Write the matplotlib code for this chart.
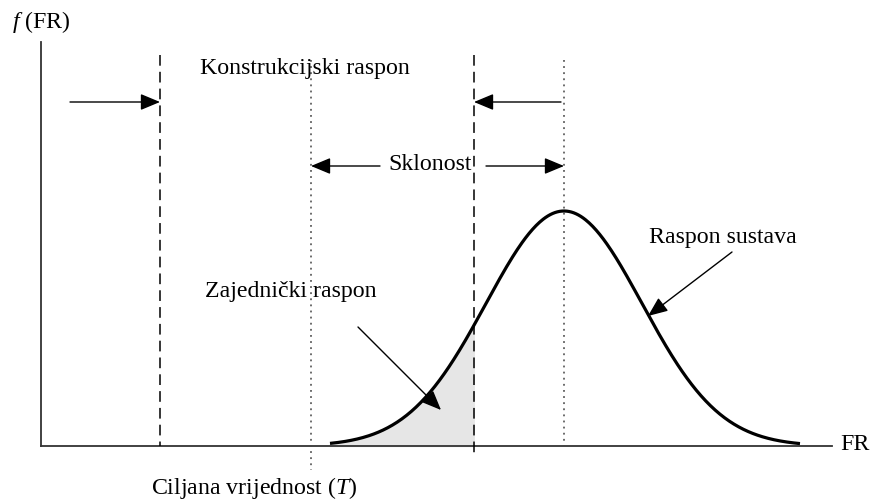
import numpy as np
import matplotlib
matplotlib.use("Agg")
import matplotlib.pyplot as plt

# ---- diagram parameters (pixel-space schematic) ----
axis_origin = (41, 446)
axis_x_end = 832
axis_y_top = 42
curve_mean = 564
curve_sd = 78
curve_height = 235
curve_range = (330, 800)
dashed_x = [160, 474]
dotted_x = [311, 564]
labels = {
    "y_axis": "f (FR)",
    "x_axis": "FR",
    "konstr": "Konstrukcijski raspon",
    "sklonost": "Sklonost",
    "zajed": "Zajednički raspon",
    "sustav": "Raspon sustava",
    "cilj": "Ciljana vrijednost (T)",
}

plt.rcParams['font.family'] = ['Liberation Serif', 'DejaVu Serif']
plt.rcParams['mathtext.fontset'] = 'custom'
plt.rcParams['mathtext.it'] = 'Liberation Serif:italic'
plt.rcParams['mathtext.rm'] = 'Liberation Serif'

fig = plt.figure(figsize=(8.74, 5.01), dpi=100)
ax = fig.add_axes([0, 0, 1, 1])
ax.set_xlim(0, 874)
ax.set_ylim(501, 0)
ax.axis('off')

ox, oy = axis_origin
# axes
ax.plot([ox, ox], [axis_y_top, oy], color='#333333', lw=1.3)
ax.plot([ox, axis_x_end], [oy, oy], color='#333333', lw=1.3)

# curve
xs = np.linspace(curve_range[0], curve_range[1], 400)
ys = oy - curve_height * np.exp(-0.5 * ((xs - curve_mean) / curve_sd) ** 2)
mask = xs <= dashed_x[1]
ax.fill_between(xs[mask], ys[mask], oy, color='#e6e6e6', zorder=1)
ax.plot(xs, ys, color='black', lw=2.3, zorder=3, solid_capstyle='butt')

# dashed lines
ax.plot([dashed_x[0]] * 2, [55, oy], color='black', lw=1.1, ls=(0, (7, 4)))
ax.plot([dashed_x[1]] * 2, [55, 456], color='black', lw=1.1, ls=(0, (7, 4)))
# dotted lines
ax.plot([dotted_x[0]] * 2, [60, 470], color='#444444', lw=1.1, ls=(0, (1.2, 2.8)))
ax.plot([dotted_x[1]] * 2, [60, oy], color='#444444', lw=1.1, ls=(0, (1.2, 2.8)))

ap = dict(arrowstyle='-|>,head_length=1.2,head_width=0.5', color='black', lw=1.0,
          shrinkA=0, shrinkB=0, mutation_scale=10)
# design range arrows
ax.annotate('', xy=(dashed_x[0], 102), xytext=(70, 102), arrowprops=ap)
ax.annotate('', xy=(dashed_x[1], 102), xytext=(561, 102), arrowprops=ap)
# bias arrows
ax.annotate('', xy=(dotted_x[0], 166), xytext=(380, 166), arrowprops=ap)
ax.annotate('', xy=(dotted_x[1], 166), xytext=(486, 166), arrowprops=ap)
# pointer arrows
ax.annotate('', xy=(441, 410), xytext=(358, 327), arrowprops=ap)
ax.annotate('', xy=(648, 316), xytext=(732, 252), arrowprops=ap)

fs = 17.2
ax.text(12, 22, r'$\mathit{f}$' + ' (FR)', fontsize=fs, ha='left', va='center')
ax.text(840, 444, labels["x_axis"], fontsize=fs, ha='left', va='center')
ax.text(305, 68, labels["konstr"], fontsize=fs, ha='center', va='center')
ax.text(430, 165, labels["sklonost"], fontsize=fs, ha='center', va='center')
ax.text(291, 291, labels["zajed"], fontsize=fs, ha='center', va='center')
ax.text(723, 238, labels["sustav"], fontsize=fs, ha='center', va='center')
ax.text(254, 488, 'Ciljana vrijednost (' + r'$\mathit{T}$' + ')', fontsize=fs,
        ha='center', va='center')

fig.savefig('out.png', dpi=100)
